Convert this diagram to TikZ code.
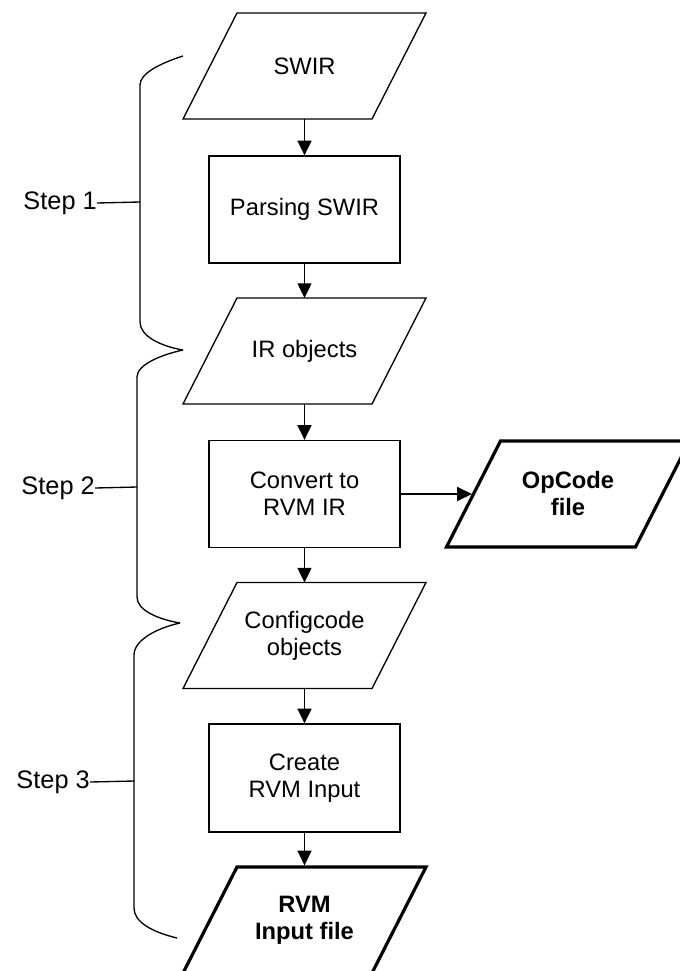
\documentclass[tikz,border=0pt]{standalone}
\usepackage{fontspec}
\setmainfont{Liberation Sans}
\usetikzlibrary{arrows.meta}
\newcommand\drawpara[2]{%
  \draw[#2] ([xshift=20.25pt]#1.north west) -- ([xshift=20.25pt]#1.north east)
    -- ([xshift=-20.25pt]#1.south east) -- ([xshift=-20.25pt]#1.south west) -- cycle;}
\begin{document}
\begin{tikzpicture}[x=0.75pt,y=-0.75pt,
  every node/.style={font=\fontsize{17.8}{20.25}\selectfont, align=center},
  thin line/.style={line width=1pt},
  thick line/.style={line width=2.4pt, line join=miter},
  procbox/.style={draw, thin line, rectangle, minimum width=143.25pt, minimum height=80.25pt, inner sep=0pt},
  iobox/.style={rectangle, minimum width=141.75pt, minimum height=79.5pt, inner sep=0pt, outer sep=0pt},
  iothick/.style={iobox, font=\fontsize{17.8}{20.25}\selectfont\bfseries},
  arr/.style={thin line, -{Triangle[width=10.5pt,length=11pt]}},
  arrthick/.style={arr, shorten >=1.2pt},
  bracestyle/.style={thin line},
  steplabel/.style={anchor=east, inner sep=0pt, font=\fontsize{19}{22}\selectfont}
]
\useasboundingbox (0,0) rectangle (680,971);
\clip (0,0) rectangle (680,971);

% flow nodes
\node[iobox] (swir) at (304.5,66) {SWIR};
\node[procbox] (parse) at (304.5,209.5) {Parsing SWIR};
\node[iobox] (ir) at (304.5,351) {IR objects};
\node[procbox] (conv) at (304.5,494) {Convert to\\RVM IR};
\node[iothick] (opc) at (568,494) {OpCode\\file};
\node[iobox] (cfg) at (304.5,635.5) {Configcode\\objects};
\node[procbox, minimum height=81pt] (create) at (304.5,778) {Create\\RVM Input};
\node[iothick] (rvm) at (304.5,920) {RVM\\Input file};

% parallelogram outlines
\drawpara{swir}{thin line}
\drawpara{ir}{thin line}
\drawpara{cfg}{thin line}
\drawpara{opc}{thick line}
\drawpara{rvm}{thick line}

% connectors
\draw[arr] (swir) -- (parse);
\draw[arr] (parse) -- (ir);
\draw[arr] (ir) -- (conv);
\draw[arrthick] (conv) -- (opc);
\draw[arr] (conv) -- (cfg);
\draw[arr] (cfg) -- (create);
\draw[arrthick] (create) -- (rvm);

% braces
\draw[bracestyle] (183,56) .. controls (158,64) and (140,74) .. (140,85) -- (140,322)
   .. controls (140,336) and (160,346) .. (183,350);
\draw[bracestyle] (183,350) .. controls (160,355) and (137,365) .. (137,377) -- (137,597)
   .. controls (137,610) and (157,619) .. (180,623);
\draw[bracestyle] (180,623) .. controls (157,628) and (134,640) .. (134,655) -- (134,908)
   .. controls (134,922) and (152,932) .. (177,938);

% step labels
\coordinate (b1) at (140,202);
\coordinate (b2) at (137,487);
\coordinate (b3) at (134,781);
\node[steplabel] (s1) at (97,203) {Step 1};
\node[steplabel] (s2) at (95,488) {Step 2};
\node[steplabel] (s3) at (90,782) {Step 3};
\draw[thin line] (s1.east) -- (b1);
\draw[thin line] (s2.east) -- (b2);
\draw[thin line] (s3.east) -- (b3);
\end{tikzpicture}
\end{document}
